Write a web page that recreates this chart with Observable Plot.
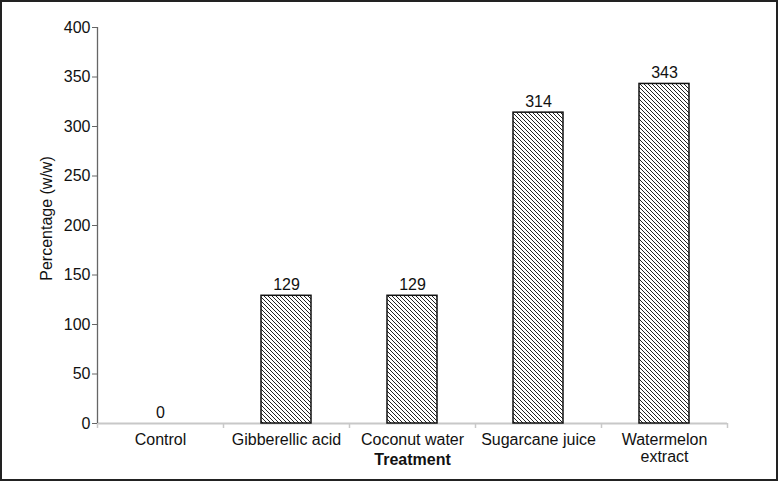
<!DOCTYPE html>
<html>
<head>
<meta charset="utf-8">
<script src="https://cdn.jsdelivr.net/npm/d3@7"></script>
<script src="https://cdn.jsdelivr.net/npm/@observablehq/plot@0.6"></script>
<style>
  html, body { margin: 0; padding: 0; background: #fff; }
  #chart svg { display: block; outline: 2px solid #222; outline-offset: -2px; }
</style>
</head>
<body>
<div id="chart"></div>
<script>
const categories = ["Control", "Gibberellic acid", "Coconut water", "Sugarcane juice", "Watermelon extract"];
const tickLabels = ["Control", "Gibberellic acid", "Coconut water", "Sugarcane juice", "Watermelon\nextract"];
const values = [0, 129, 129, 314, 343];
const yTicks = [0, 50, 100, 150, 200, 250, 300, 350, 400];

const data = categories.map((c, i) => ({category: c, value: values[i], label: tickLabels[i]}));

const font = "Liberation Sans, Arial, sans-serif";
const half = 63; // half band step in px (630 / 5 / 2)

const chart = Plot.plot({
  width: 778,
  height: 481,
  marginLeft: 97,
  marginRight: 51,
  marginTop: 27,
  marginBottom: 58,
  style: {fontFamily: font, fontSize: "16px", color: "#111", background: "#fff"},
  x: {domain: categories, paddingInner: 0.6, paddingOuter: 0.3, axis: null},
  y: {type: "linear", domain: [0, 400], axis: null},
  marks: [
    // x axis baseline (light gray)
    Plot.ruleY([0], {stroke: "#c8c8c8", strokeWidth: 2}),
    // x tick marks at band boundaries
    Plot.ruleX(categories, {
      x: d => d, dx: -half, y1: 0, y2: 0, insetBottom: -5, stroke: "#c8c8c8", strokeWidth: 1.5
    }),
    Plot.ruleX([categories[categories.length - 1]], {
      x: d => d, dx: half, y1: 0, y2: 0, insetBottom: -5, stroke: "#c8c8c8", strokeWidth: 1.5
    }),
    Plot.barY(data, {
      x: "category", y: "value",
      fill: "url(#hatch)", stroke: "#111", strokeWidth: 1.5
    }),
    Plot.text(data, {
      x: "category", y: "value", text: d => String(d.value),
      lineAnchor: "bottom", dy: -6, fontSize: 16, fill: "#111"
    }),
    // custom x tick labels
    Plot.text(data, {
      x: "category", y: () => 0, text: "label", lineAnchor: "top", dy: 9,
      fontSize: 16, lineHeight: 1.07, fill: "#111"
    }),
    // y axis line
    Plot.ruleX([categories[0]], {x: d => d, dx: -half, y1: 0, y2: 400, stroke: "#666", strokeWidth: 1.3}),
    Plot.axisY({
      ticks: yTicks, tickSize: 5, tickPadding: 2, fontSize: 16, stroke: "#666",
      label: null, color: "#111"
    }),
    Plot.text(["Percentage (w/w)"], {
      frameAnchor: "left", textAnchor: "middle", dx: -51, dy: -7, rotate: -90, fontSize: 16, fill: "#111"
    }),
    Plot.text(["Treatment"], {
      frameAnchor: "bottom", dy: 41, fontSize: 16, fontWeight: "bold", fill: "#111"
    })
  ]
});

// hatch pattern definition
const svg = d3.select(chart);
const defs = svg.insert("defs", ":first-child");
const pat = defs.append("pattern")
  .attr("id", "hatch")
  .attr("patternUnits", "userSpaceOnUse")
  .attr("width", 4).attr("height", 4);
pat.append("rect").attr("width", 4).attr("height", 4).attr("fill", "#fff");
pat.append("path")
  .attr("d", "M-1,-1 L5,5 M-1,3 L1,5 M3,-1 L5,1")
  .attr("stroke", "#222").attr("stroke-width", 1);

document.getElementById("chart").appendChild(chart);
</script>
</body>
</html>
